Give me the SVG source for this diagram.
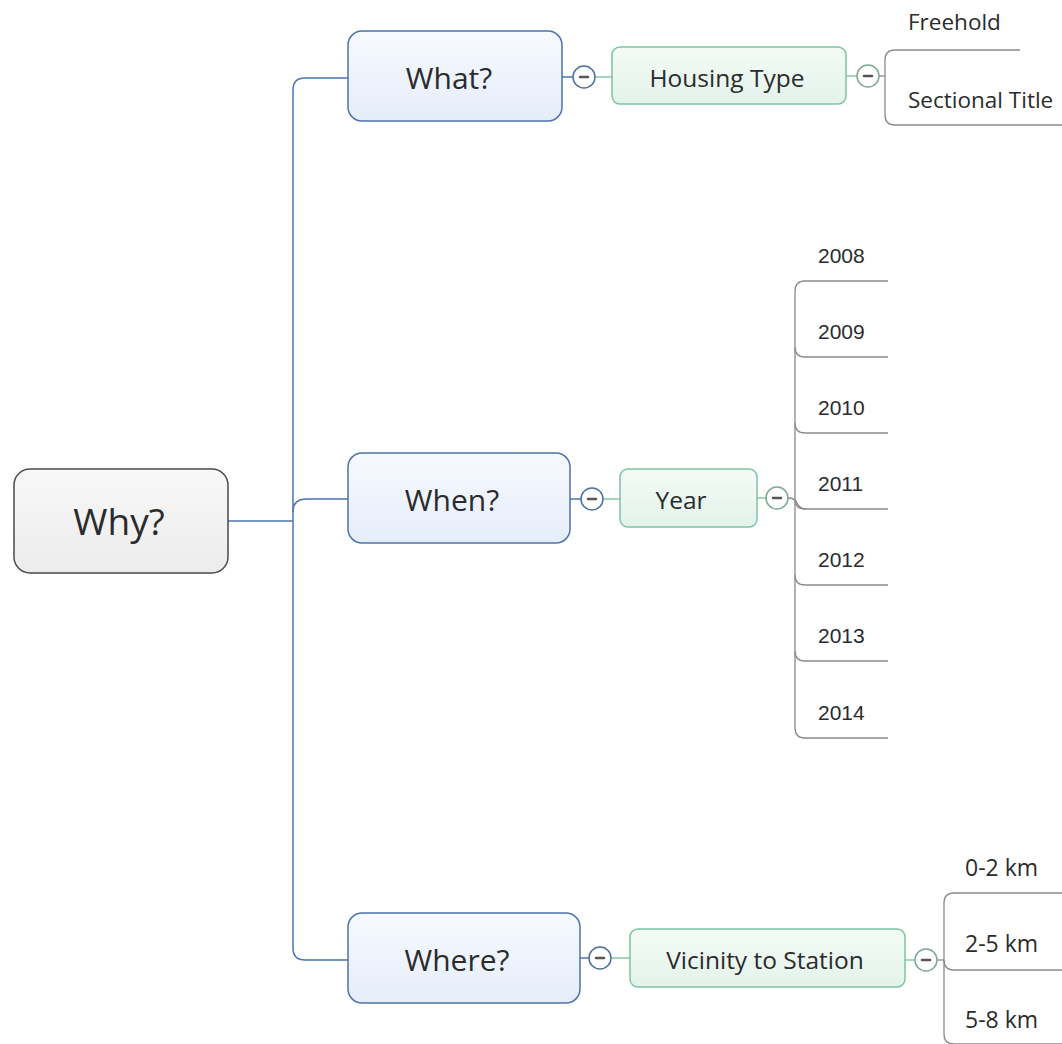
<svg xmlns="http://www.w3.org/2000/svg" width="1062" height="1044" viewBox="0 0 1062 1044">
  <defs>
    <linearGradient id="gBlue" x1="0" y1="0" x2="0" y2="1">
      <stop offset="0" stop-color="#f7faff"/>
      <stop offset="1" stop-color="#e5edf9"/>
    </linearGradient>
    <linearGradient id="gGreen" x1="0" y1="0" x2="0" y2="1">
      <stop offset="0" stop-color="#f4fbf7"/>
      <stop offset="1" stop-color="#e2f3ea"/>
    </linearGradient>
    <linearGradient id="gGray" x1="0" y1="0" x2="0" y2="1">
      <stop offset="0" stop-color="#f8f8f8"/>
      <stop offset="1" stop-color="#ececec"/>
    </linearGradient>
  </defs>
  <style>
    text { font-family: "Open Sans", "Noto Sans", "Liberation Sans", sans-serif; fill: #2b2b2b; }
    .root { fill: url(#gGray); stroke: #4a4a4a; stroke-width: 1.5; }
    .main { fill: url(#gBlue); stroke: #4d73aa; stroke-width: 1.5; }
    .sub { fill: url(#gGreen); stroke: #7cc4a2; stroke-width: 1.5; }
    .t-root { font-size: 37px; text-anchor: middle; }
    .t-main { font-size: 30px; text-anchor: middle; }
    .t-sub { font-size: 24.5px; text-anchor: middle; }
    .t-leaf { font-size: 22.5px; }
    .t-km { font-size: 23px; }
    .t-year { font-family: "Liberation Sans", "Open Sans", sans-serif; font-size: 21px; }
    .c-blue { fill: none; stroke: #4a76b2; stroke-width: 1.5; }
    .c-green { fill: none; stroke: #86c9a8; stroke-width: 1.5; }
    .c-gray { fill: none; stroke: #8a8a8a; stroke-width: 1.3; }
    .btn-blue { fill: #ffffff; stroke: #4f6f9c; stroke-width: 1.5; }
    .btn-green { fill: #ffffff; stroke: #7da992; stroke-width: 1.5; }
    .minus { stroke: #555555; stroke-width: 2.5; stroke-linecap: round; }
  </style>

  <!-- connectors -->
  <g id="connectors">
    <!-- root to level 1 -->
    <path class="c-blue" d="M228,521 H293"/>
    <path class="c-blue" d="M348,78 H305 Q293,78 293,90 V948 Q293,960 305,960 H348"/>
    <path class="c-blue" d="M293,512 Q293,499 306,499 H348"/>
    <!-- level 1 to buttons -->
    <path class="c-blue" d="M562,77 H573"/>
    <path class="c-blue" d="M570,499 H581"/>
    <path class="c-blue" d="M580,958 H589"/>
    <!-- buttons to level 2 -->
    <path class="c-green" d="M595,77 H612"/>
    <path class="c-green" d="M603,499 H620"/>
    <path class="c-green" d="M611,958 H630"/>
    <!-- level 2 to buttons -->
    <path class="c-green" d="M846,76 H857"/>
    <path class="c-green" d="M757,498 H766"/>
    <path class="c-green" d="M905,960 H915"/>
    <!-- housing type bracket -->
    <path class="c-gray" d="M879,76 H885"/>
    <path class="c-gray" d="M1020,50 H895 Q885,50 885,60 V115 Q885,125 895,125 H1062"/>
    <!-- year bracket -->
    <path class="c-gray" d="M788,498 Q795,498 797,503 Q800,509 806,509"/>
    <path class="c-gray" d="M888,281 H805 Q795,281 795,291 V728 Q795,738 805,738 H888"/>
    <path class="c-gray" d="M795,347 Q795,357 805,357 H888"/>
    <path class="c-gray" d="M795,423 Q795,433 805,433 H888"/>
    <path class="c-gray" d="M795,499 Q795,509 805,509 H888"/>
    <path class="c-gray" d="M795,575 Q795,585 805,585 H888"/>
    <path class="c-gray" d="M795,651 Q795,661 805,661 H888"/>
    <!-- distance bracket -->
    <path class="c-gray" d="M937,960 H944"/>
    <path class="c-gray" d="M1062,893 H954 Q944,893 944,903 V1034 Q944,1044 954,1044 H1062"/>
    <path class="c-gray" d="M944,960 Q944,970 954,970 H1062"/>
  </g>

  <!-- root -->
  <g id="why">
    <rect class="root" x="14" y="469" width="214" height="104" rx="16"/>
    <text class="t-root" x="119" y="535">Why?</text>
  </g>

  <!-- level 1 -->
  <g id="what">
    <rect class="main" x="348" y="31" width="214" height="90" rx="14"/>
    <text class="t-main" x="449" y="89">What?</text>
  </g>
  <g id="when">
    <rect class="main" x="348" y="453" width="222" height="90" rx="14"/>
    <text class="t-main" x="452" y="511">When?</text>
  </g>
  <g id="where">
    <rect class="main" x="348" y="913" width="232" height="90" rx="14"/>
    <text class="t-main" x="457" y="971">Where?</text>
  </g>

  <!-- collapse buttons -->
  <g id="buttons">
    <circle class="btn-blue" cx="584" cy="77" r="11"/>
    <line class="minus" x1="580" y1="77" x2="588" y2="77"/>
    <circle class="btn-blue" cx="592" cy="499" r="11"/>
    <line class="minus" x1="588" y1="499" x2="596" y2="499"/>
    <circle class="btn-blue" cx="600" cy="958" r="11"/>
    <line class="minus" x1="596" y1="958" x2="604" y2="958"/>
    <circle class="btn-green" cx="868" cy="76" r="11"/>
    <line class="minus" x1="864" y1="76" x2="872" y2="76"/>
    <circle class="btn-green" cx="777" cy="498" r="11"/>
    <line class="minus" x1="773" y1="498" x2="781" y2="498"/>
    <circle class="btn-green" cx="926" cy="960" r="11"/>
    <line class="minus" x1="922" y1="960" x2="930" y2="960"/>
  </g>

  <!-- level 2 -->
  <g id="housing-type">
    <rect class="sub" x="612" y="47" width="234" height="57" rx="8"/>
    <text class="t-sub" x="727" y="87">Housing Type</text>
  </g>
  <g id="year">
    <rect class="sub" x="620" y="469" width="137" height="58" rx="8"/>
    <text class="t-sub" x="681" y="509">Year</text>
  </g>
  <g id="vicinity">
    <rect class="sub" x="630" y="929" width="275" height="58" rx="8"/>
    <text class="t-sub" x="765" y="969">Vicinity to Station</text>
  </g>

  <!-- leaves -->
  <g id="freehold"><text class="t-leaf" x="908" y="30">Freehold</text></g>
  <g id="sectional-title"><text class="t-leaf" x="908" y="108">Sectional Title</text></g>

  <g id="y2008"><text class="t-year" x="818" y="263">2008</text></g>
  <g id="y2009"><text class="t-year" x="818" y="339">2009</text></g>
  <g id="y2010"><text class="t-year" x="818" y="415">2010</text></g>
  <g id="y2011"><text class="t-year" x="818" y="491">2011</text></g>
  <g id="y2012"><text class="t-year" x="818" y="567">2012</text></g>
  <g id="y2013"><text class="t-year" x="818" y="643">2013</text></g>
  <g id="y2014"><text class="t-year" x="818" y="720">2014</text></g>

  <g id="km0-2"><text class="t-km" x="965" y="876">0-2 km</text></g>
  <g id="km2-5"><text class="t-km" x="965" y="952">2-5 km</text></g>
  <g id="km5-8"><text class="t-km" x="965" y="1028">5-8 km</text></g>
</svg>
